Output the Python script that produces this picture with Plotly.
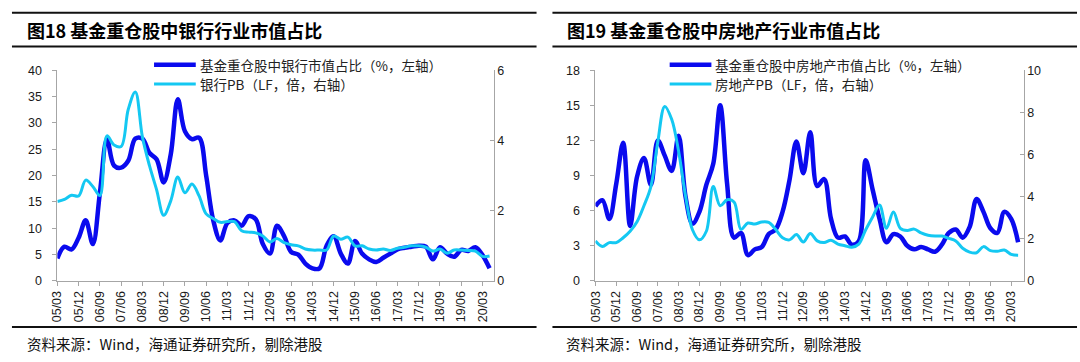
import plotly.graph_objects as go

# ---------------- data ----------------
tick_labels = ["05/03", "05/12", "06/09", "07/06", "08/03", "08/12", "09/09", "10/06",
               "11/03", "11/12", "12/09", "13/06", "14/03", "14/12", "15/09", "16/06",
               "17/03", "17/12", "18/09", "19/06", "20/03"]

bank_share = [4.3, 6.5, 6.0, 8.2, 11.5, 7.0, 16.7, 26.9, 21.9, 21.5, 22.8, 27.0, 27.0, 24.3,
              23.1, 18.7, 24.0, 34.5, 28.4, 26.9, 27.2, 20.0, 11.5, 7.7, 11.0, 11.5, 10.5,
              12.3, 11.7, 7.0, 5.2, 10.5, 8.5, 5.5, 5.0, 3.3, 2.4, 2.4, 6.7, 8.5, 5.2, 3.3,
              7.6, 5.2, 4.1, 3.6, 4.4, 5.2, 6.0, 6.3, 6.5, 6.7, 6.5, 4.1, 6.4, 5.2, 4.6, 5.9,
              5.7, 6.4, 4.9, 2.4]

bank_pb = [2.26, 2.32, 2.44, 2.42, 2.87, 2.69, 2.43, 4.13, 3.87, 3.83, 4.88, 5.38, 4.10, 3.28,
           2.60, 1.87, 2.28, 2.96, 2.51, 2.76, 2.42, 1.91, 1.78, 1.67, 1.69, 1.69, 1.43, 1.39,
           1.37, 1.28, 1.11, 1.21, 1.09, 1.03, 1.00, 0.91, 0.88, 0.88, 0.88, 1.28, 1.19, 1.25,
           1.00, 1.00, 0.91, 0.88, 0.91, 0.87, 0.93, 0.96, 1.00, 1.00, 0.96, 0.85, 0.91, 0.79,
           0.88, 0.88, 0.87, 0.85, 0.70, 0.71]

re_share = [6.4, 6.9, 5.3, 8.3, 11.8, 4.7, 8.9, 10.5, 8.2, 12.0, 10.7, 9.4, 12.4, 7.2, 4.9,
            5.9, 8.2, 10.0, 15.0, 8.3, 3.7, 4.1, 2.2, 2.7, 2.9, 4.0, 4.4, 5.9, 8.6, 11.9, 9.2,
            12.7, 8.1, 8.7, 5.3, 3.7, 3.8, 3.1, 3.4, 10.3, 7.8, 5.3, 3.3, 4.0, 3.8, 3.0, 2.7,
            2.9, 2.7, 2.5, 3.1, 4.1, 4.4, 3.7, 4.6, 7.0, 5.9, 4.5, 4.1, 5.9, 5.3, 3.3]

re_pb = [1.90, 1.64, 1.82, 1.82, 2.05, 2.36, 2.81, 3.57, 4.48, 6.60, 8.28, 7.67, 6.15, 4.03,
         2.43, 1.95, 2.36, 4.48, 3.57, 3.85, 3.75, 2.45, 2.75, 2.70, 2.80, 2.78, 2.45, 2.05,
         1.95, 2.20, 1.85, 2.25, 1.90, 1.82, 1.93, 1.75, 1.67, 1.60, 1.75, 2.43, 3.04, 3.60,
         2.50, 3.27, 2.50, 2.40, 2.46, 2.28, 2.17, 2.13, 2.13, 2.02, 1.90, 1.55, 1.37, 1.34,
         1.63, 1.44, 1.41, 1.47, 1.26, 1.22]

titles = ["图18 基金重仓股中银行行业市值占比", "图19 基金重仓股中房地产行业市值占比"]
legend_left = ["基金重仓股中银行市值占比（%，左轴）", "银行PB（LF，倍，右轴）"]
legend_right = ["基金重仓股中房地产市值占比（%，左轴）", "房地产PB（LF，倍，右轴）"]
source_text = "资料来源：Wind，海通证券研究所，剔除港股"

# ---------------- styling ----------------
W, H = 1080, 362
DARK = "#0A0AEE"
LIGHT = "#14C8F2"
AXC = "#A6A6A6"
TXT = "#1A1A1A"
CJK = "Noto Sans CJK SC"
LAT = "Liberation Sans, Arial, sans-serif"

def px_x(x):
    return x / W

def px_y(y):
    return 1 - y / H

x_idx = list(range(len(bank_share)))
tickvals = [3 * k for k in range(len(tick_labels))]

fig = go.Figure()
fig.add_trace(go.Scatter(x=x_idx, y=bank_share, mode="lines", line=dict(color=DARK, width=4.5, shape="spline"),
                         xaxis="x", yaxis="y", name=legend_left[0], showlegend=False))
fig.add_trace(go.Scatter(x=x_idx, y=bank_pb, mode="lines", line=dict(color=LIGHT, width=3, shape="spline"),
                         xaxis="x", yaxis="y2", name=legend_left[1], showlegend=False))
fig.add_trace(go.Scatter(x=x_idx, y=re_share, mode="lines", line=dict(color=DARK, width=4.5, shape="spline"),
                         xaxis="x2", yaxis="y3", name=legend_right[0], showlegend=False))
fig.add_trace(go.Scatter(x=x_idx, y=re_pb, mode="lines", line=dict(color=LIGHT, width=3, shape="spline"),
                         xaxis="x2", yaxis="y4", name=legend_right[1], showlegend=False))

ydom = [px_y(285), px_y(65.7)]
tickfont = dict(family=LAT, size=12.5, color=TXT)

def xaxis_cfg(dom, anchor, rng):
    return dict(domain=dom, anchor=anchor, range=rng, tickmode="array", tickvals=tickvals,
                ticktext=tick_labels, tickangle=-90, showline=True, linecolor=AXC, linewidth=1,
                ticks="outside", ticklen=4, tickcolor=AXC, showgrid=False, zeroline=False,
                tickfont=tickfont, fixedrange=True)

def yaxis_cfg(rng, dtick, side="left", overlay=None, anchor=None, ticks="outside", standoff=8):
    d = dict(domain=ydom, range=rng, dtick=dtick, tick0=0, side=side, showline=True, linecolor=AXC,
             linewidth=1, ticks=ticks, ticklen=4, tickcolor=AXC, showgrid=False, zeroline=False,
             tickfont=tickfont, ticklabelstandoff=standoff, fixedrange=True)
    if overlay:
        d["overlaying"] = overlay
    if anchor:
        d["anchor"] = anchor
    return d

fig.update_layout(
    width=W, height=H, margin=dict(l=0, r=0, t=0, b=0),
    paper_bgcolor="white", plot_bgcolor="white", showlegend=False, hovermode=False,
    xaxis=xaxis_cfg([px_x(50.7), px_x(490)], "y", [0, 61.6]),
    yaxis=yaxis_cfg([0, 40], 5, anchor="x"),
    yaxis2=yaxis_cfg([0, 6], 2, side="right", overlay="y", anchor="x", ticks="inside", standoff=0),
    xaxis2=xaxis_cfg([px_x(592.3), px_x(1023.3)], "y3", [0, 61.8]),
    yaxis3=yaxis_cfg([0, 18], 3, anchor="x2"),
    yaxis4=yaxis_cfg([0, 10], 2, side="right", overlay="y3", anchor="x2", ticks="inside", standoff=0),
)

shapes = []
annotations = []
panels = [
    dict(x0=5, x1=533, tx=18, legend=legend_left, lx=148, title=titles[0], sx=18),
    dict(x0=549, x1=1077, tx=562, legend=legend_right, lx=667, title=titles[1], sx=561),
]
for p in panels:
    for yy, wdt in [(6, 2), (41, 2), (333, 2)]:
        shapes.append(dict(type="line", xref="paper", yref="paper", x0=px_x(p["x0"]), x1=px_x(p["x1"]),
                           y0=px_y(yy), y1=px_y(yy), line=dict(color="#111111", width=wdt)))
    annotations.append(dict(text="<b>" + p["title"] + "</b>", xref="paper", yref="paper",
                            x=px_x(p["tx"]), y=px_y(24), xanchor="left", yanchor="middle",
                            showarrow=False, font=dict(family=CJK, size=18, color="#000000")))
    annotations.append(dict(text=source_text, xref="paper", yref="paper",
                            x=px_x(p["sx"]), y=px_y(350), xanchor="left", yanchor="middle",
                            showarrow=False, font=dict(family=CJK, size=14.5, color="#111111")))
    for k, (col, lw, yy) in enumerate([(DARK, 4.5, 60), (LIGHT, 3, 80)]):
        shapes.append(dict(type="line", xref="paper", yref="paper", x0=px_x(p["lx"]), x1=px_x(p["lx"] + 42),
                           y0=px_y(yy), y1=px_y(yy), line=dict(color=col, width=lw)))
        annotations.append(dict(text=p["legend"][k], xref="paper", yref="paper",
                                x=px_x(p["lx"] + 44), y=px_y(yy), xanchor="left", yanchor="middle",
                                showarrow=False, font=dict(family=CJK, size=13.5, color="#222222")))

fig.update_layout(shapes=shapes, annotations=annotations)
fig.write_html("out.html", config={"displayModeBar": False, "staticPlot": True},
               post_script="document.body.style.margin='0';document.body.style.overflow='hidden';")
